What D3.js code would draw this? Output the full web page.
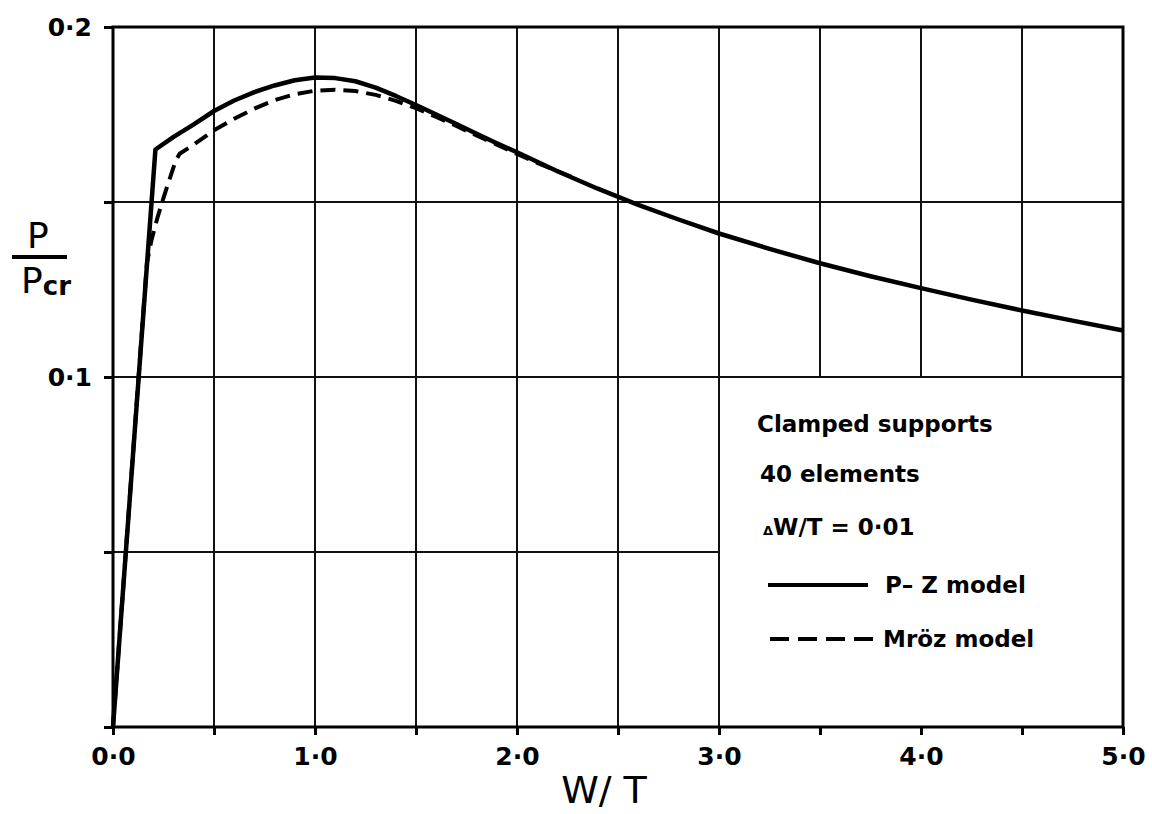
<!DOCTYPE html>
<html>
<head>
<meta charset="utf-8">
<script src="https://cdn.jsdelivr.net/npm/d3@7"></script>
<style>
  html, body { margin: 0; padding: 0; background: #fff; }
  svg { display: block; font-family: "DejaVu Sans", sans-serif; }
</style>
</head>
<body>
<svg id="chart" width="1152" height="814"></svg>
<script>
// P-Z model (solid)
const pzX = [0, 0.21, 0.3, 0.4, 0.5, 0.6, 0.7, 0.8, 0.9, 1.0, 1.1, 1.2, 1.3, 1.4, 1.5, 1.6, 1.7, 1.8, 1.9, 2.0,
  2.2, 2.4, 2.6, 2.8, 3.0, 3.25, 3.5, 3.75, 4.0, 4.25, 4.5, 4.75, 5.0];
const pzY = [0, 0.1650, 0.1686, 0.1722, 0.1760, 0.1790, 0.1814, 0.1833, 0.1848, 0.1856, 0.1854, 0.1845, 0.1827, 0.1803, 0.1777, 0.1750, 0.1723, 0.1695, 0.1668, 0.1642,
  0.1588, 0.1538, 0.1492, 0.1450, 0.1410, 0.1366, 0.1325, 0.1288, 0.1254, 0.1221, 0.1190, 0.1161, 0.1133];

// Mroz model (dashed)
const mzX = [0, 0.168, 0.19, 0.22, 0.25, 0.28, 0.31, 0.33, 0.4, 0.5, 0.6, 0.7, 0.8, 0.9, 1.0, 1.1, 1.2, 1.3, 1.4, 1.5, 1.6, 1.7, 1.8, 1.9, 2.0, 2.1, 2.2, 2.3];
const mzY = [0, 0.1326, 0.1390, 0.1455, 0.1512, 0.1565, 0.1618, 0.1638, 0.1664, 0.1705, 0.1738, 0.1767, 0.1791, 0.1808, 0.1818, 0.1821, 0.1817, 0.1806, 0.1789, 0.1768, 0.1743, 0.1717, 0.1690, 0.1664, 0.1637, 0.1612, 0.1588, 0.1565];

const xTicks = [0, 0.5, 1, 1.5, 2, 2.5, 3, 3.5, 4, 4.5, 5];
const yTicks = [0, 0.05, 0.1, 0.15, 0.2];
const legendLines = ["Clamped supports", "40 elements"];

const svg = d3.select("#chart");
const x = d3.scaleLinear().domain([0, 5]).range([113, 1123]);
const y = d3.scaleLinear().domain([0, 0.2]).range([727, 27]);

const fmt = d => d.toFixed(1).replace(".", "\u00b7");

// grid (legend box area, x>=3 & y<=0.1, left empty)
const grid = svg.append("g").attr("stroke", "#111").attr("stroke-width", 2);
grid.selectAll("line.v")
  .data(xTicks.filter(d => d > 0 && d < 5))
  .enter().append("line")
  .attr("x1", d => x(d)).attr("x2", d => x(d))
  .attr("y1", y(0.2))
  .attr("y2", d => d > 3 ? y(0.1) : y(0));
grid.selectAll("line.h")
  .data(yTicks.filter(d => d > 0 && d < 0.2))
  .enter().append("line")
  .attr("y1", d => y(d)).attr("y2", d => y(d))
  .attr("x1", x(0))
  .attr("x2", d => d < 0.1 ? x(3) : x(5));

// frame
svg.append("rect")
  .attr("x", x(0)).attr("y", y(0.2))
  .attr("width", x(5) - x(0)).attr("height", y(0) - y(0.2))
  .attr("fill", "none").attr("stroke", "#000").attr("stroke-width", 3);

// axes
const xAxis = svg.append("g")
  .attr("transform", `translate(0,${y(0)})`)
  .call(d3.axisBottom(x).tickValues(xTicks).tickSize(8).tickPadding(12)
    .tickFormat(d => Number.isInteger(d) ? fmt(d) : ""))
  .attr("font-size", 25).attr("font-family", "DejaVu Sans").attr("font-weight", "bold");
xAxis.select(".domain").remove();
xAxis.selectAll(".tick line").attr("stroke", "#000").attr("stroke-width", 3);
xAxis.selectAll("text").attr("fill", "#000");

const yAxis = svg.append("g")
  .attr("transform", `translate(${x(0)},0)`)
  .call(d3.axisLeft(y).tickValues(yTicks).tickSize(9).tickPadding(12)
    .tickFormat(d => (d === 0.1 || d === 0.2) ? fmt(d) : ""))
  .attr("font-size", 25).attr("font-family", "DejaVu Sans").attr("font-weight", "bold");
yAxis.select(".domain").remove();
yAxis.selectAll(".tick line").attr("stroke", "#000").attr("stroke-width", 3);
yAxis.selectAll("text").attr("fill", "#000");

// curves
const line = d3.line().x(d => x(d[0])).y(d => y(d[1]));
svg.append("path")
  .datum(mzX.map((v, i) => [v, mzY[i]]))
  .attr("d", line)
  .attr("fill", "none").attr("stroke", "#000").attr("stroke-width", 4)
  .attr("stroke-dasharray", "15,8");
svg.append("path")
  .datum(pzX.map((v, i) => [v, pzY[i]]))
  .attr("d", line)
  .attr("fill", "none").attr("stroke", "#000").attr("stroke-width", 4.5)
  .attr("stroke-linejoin", "round");

// axis titles
svg.append("text")
  .attr("x", 604).attr("y", 803)
  .attr("text-anchor", "middle")
  .style("font-size", "38px")
  .text("W/ T");

const yl = svg.append("g");
yl.append("text").attr("x", 27).attr("y", 248).style("font-size", "36px").text("P");
yl.append("line").attr("x1", 12).attr("x2", 67).attr("y1", 257).attr("y2", 257)
  .attr("stroke", "#000").attr("stroke-width", 4);
const pcr = yl.append("text").attr("x", 21).attr("y", 293).style("font-size", "36px");
pcr.append("tspan").text("P");
pcr.append("tspan").attr("dy", 2).style("font-size", "26px").style("font-weight", "bold").text("cr");

// legend
const lg = svg.append("g").style("font-weight", "bold").style("font-size", "23px");
lg.selectAll("text.l")
  .data(legendLines)
  .enter().append("text")
  .attr("x", (d, i) => 757 + i * 3)
  .attr("y", (d, i) => 432 + i * 50)
  .text(d => d);
const dw = lg.append("text").attr("x", 763).attr("y", 535);
dw.append("tspan").style("font-size", "13px").text("\u0394");
dw.append("tspan").text("W/T = 0\u00b701");

lg.append("line").attr("x1", 768).attr("x2", 868).attr("y1", 585).attr("y2", 585)
  .attr("stroke", "#000").attr("stroke-width", 4);
lg.append("text").attr("x", 885).attr("y", 593).text("P\u2013 Z model");
lg.append("line").attr("x1", 770).attr("x2", 873).attr("y1", 639).attr("y2", 639)
  .attr("stroke", "#000").attr("stroke-width", 4).attr("stroke-dasharray", "19,9");
lg.append("text").attr("x", 883).attr("y", 647).text("Mr\u00f6z model");
</script>
</body>
</html>
